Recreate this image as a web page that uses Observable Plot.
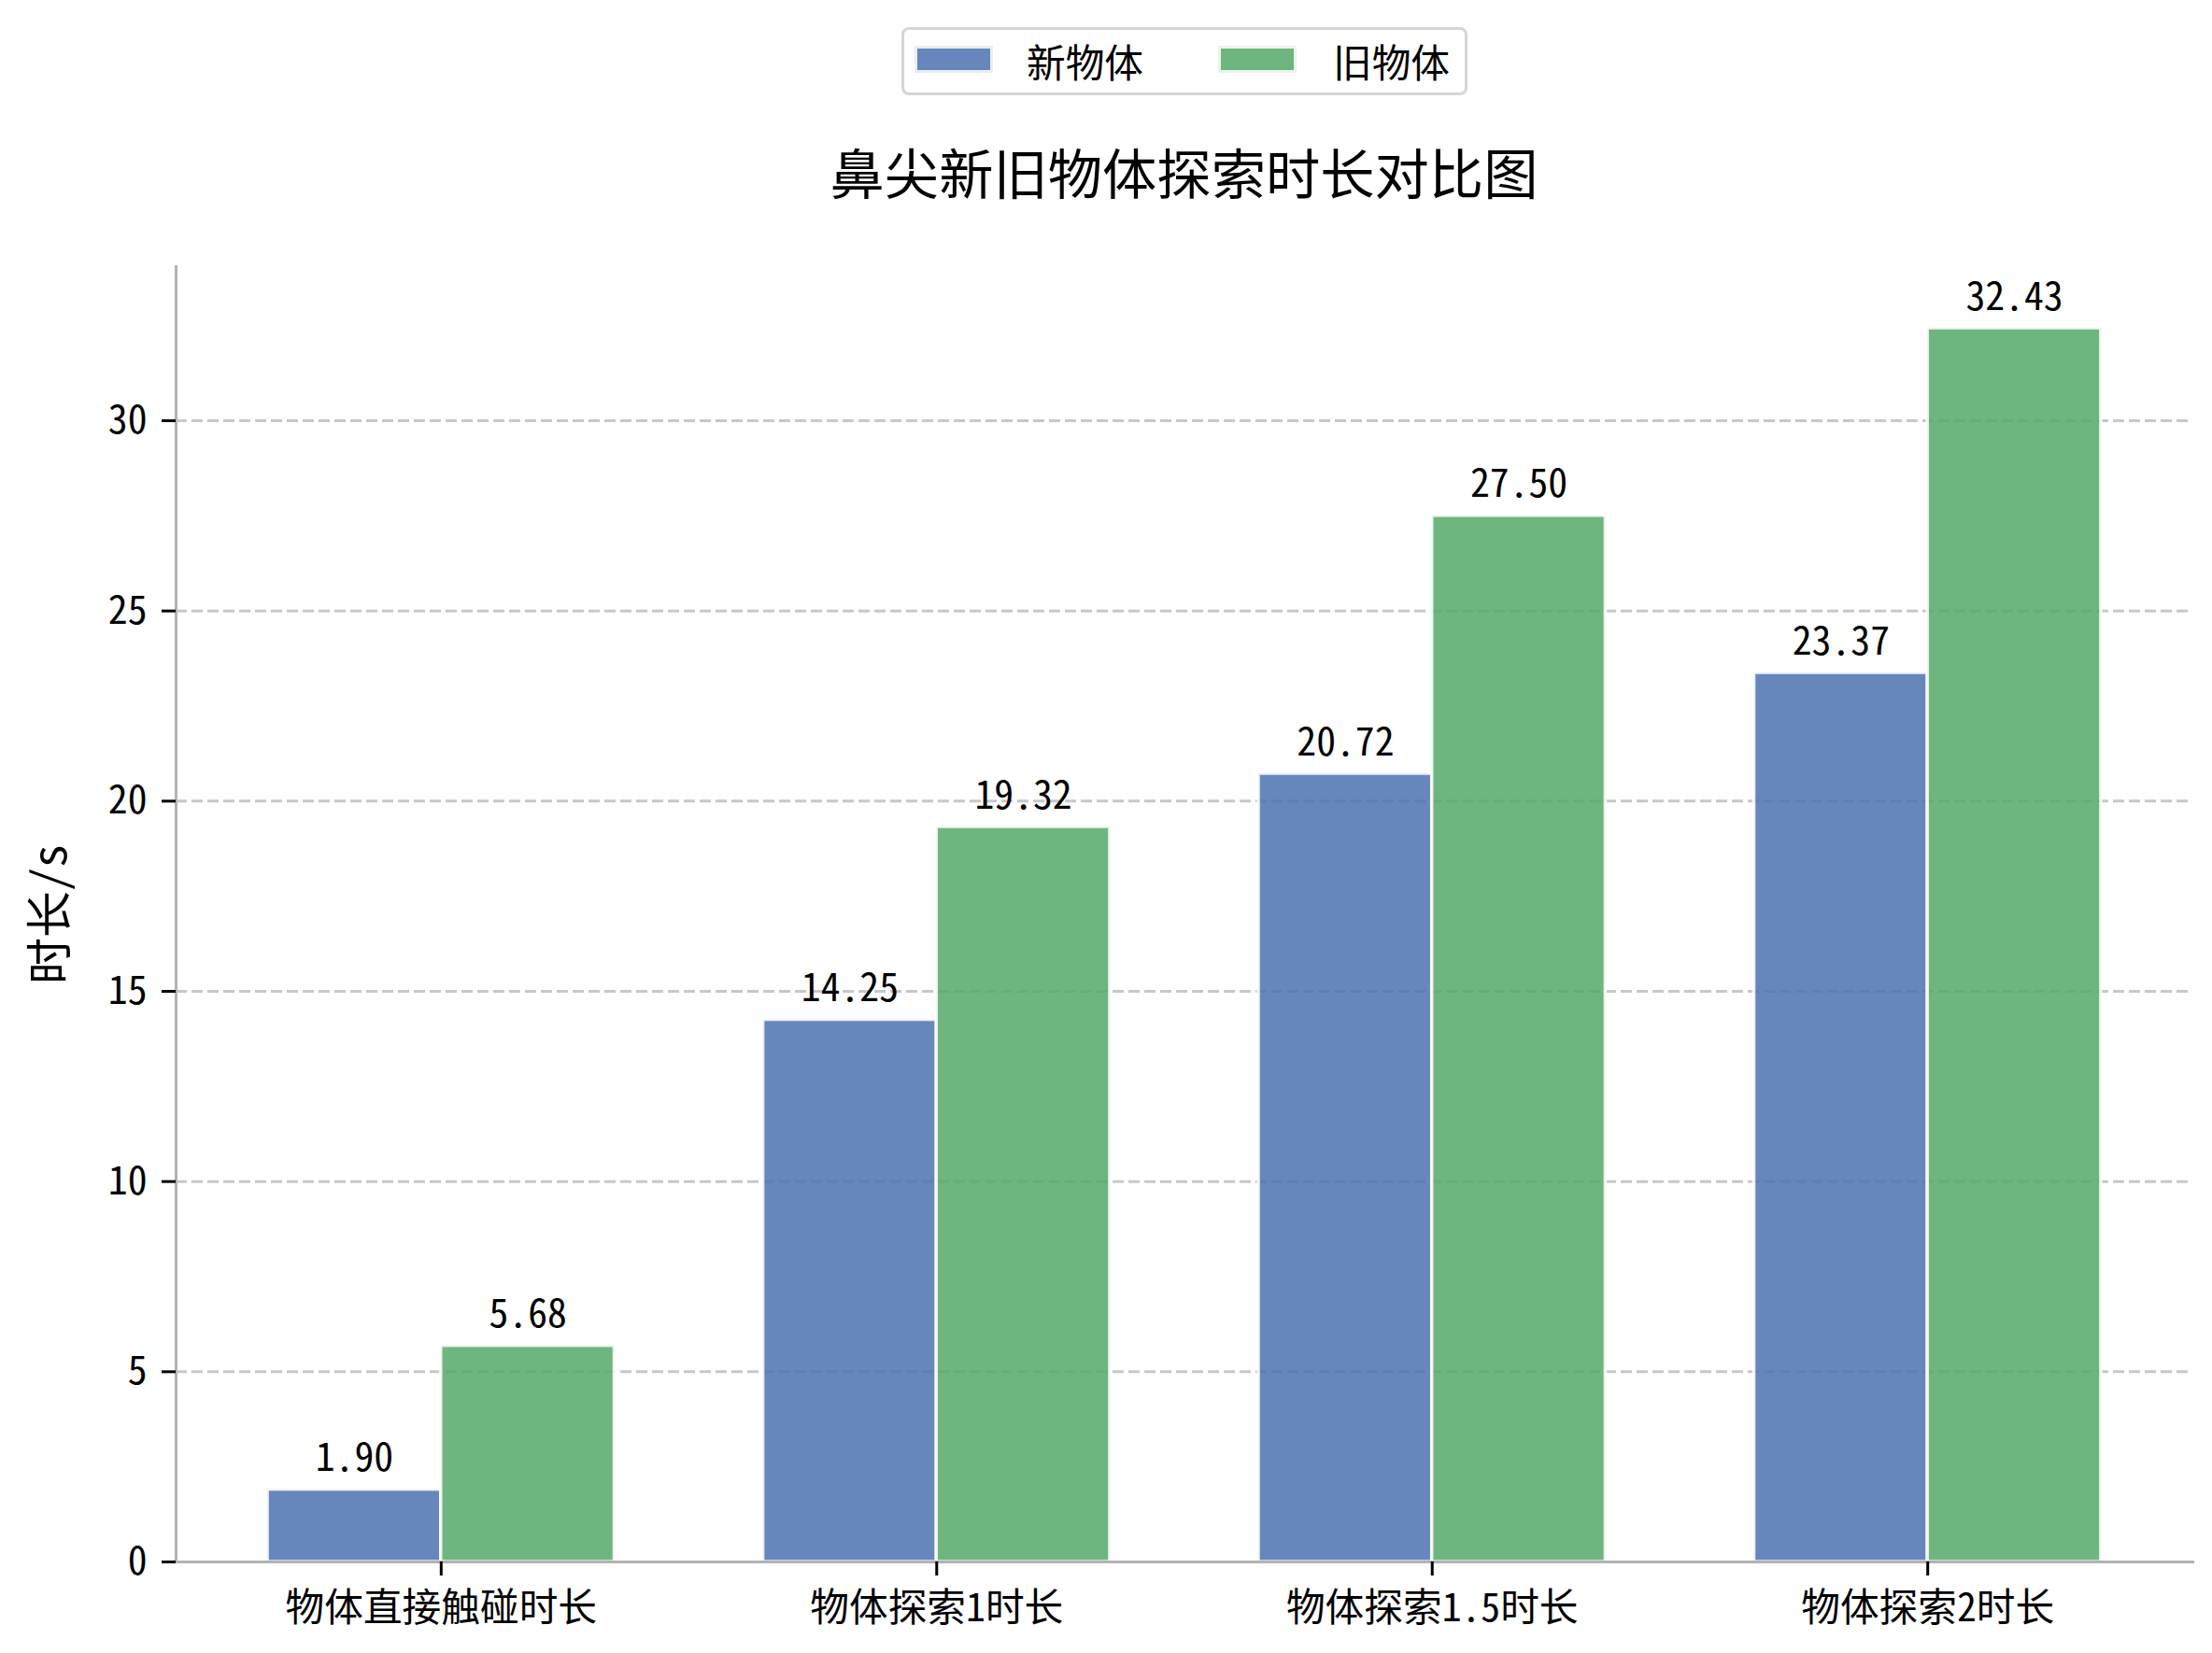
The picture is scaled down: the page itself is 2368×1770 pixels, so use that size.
<!DOCTYPE html>
<html>
<head>
<meta charset="utf-8">
<script src="https://cdn.jsdelivr.net/npm/d3@7"></script>
<script src="https://cdn.jsdelivr.net/npm/@observablehq/plot@0.6"></script>
<style>
  html, body { margin: 0; padding: 0; background: #fff; }
  #page { position: relative; width: 2368px; height: 1770px; background: #fff; overflow: hidden;
    font-family: "Noto Sans Mono CJK SC", "Noto Sans CJK SC", sans-serif; color: #000; }
  #header { position: relative; width: 2368px; height: 230px; }
  #legend { position: absolute; left: 965px; top: 29px; width: 600px; height: 67px;
    border: 3px solid #d6d6d6; border-radius: 8px; background: rgba(255,255,255,0.8); }
  .sw { position: absolute; top: 20px; width: 78px; height: 23px; }
  .lt { position: absolute; top: 0; height: 67px; line-height: 67px; font-size: 41.7px; white-space: nowrap; }
  #title { position: absolute; left: 188px; width: 2159px; top: 153px; height: 60px; line-height: 60px;
    text-align: center; font-size: 58.3px; }
  #chart svg { display: block; }
</style>
</head>
<body>
<div id="page">
  <div id="header">
    <div id="legend"></div>
    <div id="title"></div>
  </div>
  <div id="chart"></div>
</div>
<script>
// ---- data ----
const categories = ["物体直接触碰时长", "物体探索1时长", "物体探索1.5时长", "物体探索2时长"];
const seriesNames = ["新物体", "旧物体"];
const newValues = [1.90, 14.25, 20.72, 23.37];
const oldValues = [5.68, 19.32, 27.50, 32.43];
const seriesColors = ["#4C72B0", "#55A868"];
const yTicks = [0, 5, 10, 15, 20, 25, 30];
const titleText = "鼻尖新旧物体探索时长对比图";
const yLabel = "时长/s";

// ---- build table ----
const seriesValues = [newValues, oldValues];
const rows = [];
seriesValues.forEach((vals, s) => {
  vals.forEach((v, i) => rows.push({category: categories[i], idx: i, series: seriesNames[s], s, value: v}));
});

const barW = 0.35;
const maxV = d3.max(rows, d => d.value);
const xPad = barW + 0.05 * (categories.length - 1 + 2 * barW);
const fontFamily = '"Noto Sans Mono CJK SC", "Noto Sans CJK SC", sans-serif';

// ---- header: legend + title ----
document.getElementById("title").textContent = titleText;
const legend = document.getElementById("legend");
const swLeft = [14, 339];
const txtLeft = [131, 459];
seriesNames.forEach((name, s) => {
  const sw = document.createElement("div");
  sw.className = "sw";
  sw.style.left = swLeft[s] + "px";
  const c = d3.color(seriesColors[s]);
  sw.style.background = c.copy({opacity: 0.85}).formatRgb();
  sw.style.outline = "3px solid " + c.copy({opacity: 0.12}).formatRgb();
  legend.appendChild(sw);
  const t = document.createElement("div");
  t.className = "lt";
  t.style.left = txtLeft[s] + "px";
  t.textContent = name;
  legend.appendChild(t);
});

// ---- chart ----
const chart = Plot.plot({
  width: 2368,
  height: 1540,
  marginLeft: 188,
  marginRight: 21,
  marginTop: 55,
  marginBottom: 98,
  style: {fontFamily, fontSize: "41.7px", color: "#000", background: "#fff", overflow: "visible"},
  x: {type: "linear", domain: [-xPad, categories.length - 1 + xPad], axis: null},
  y: {domain: [0, maxV * 1.05], axis: null},
  color: {domain: seriesNames, range: seriesColors},
  marks: [
    Plot.gridY(yTicks.filter(t => t > 0), {stroke: "#b0b0b0", strokeOpacity: 0.7, strokeWidth: 3, strokeDasharray: "12,5"}),
    Plot.rectY(rows, {
      x1: d => d.idx + (d.s - 1) * barW,
      x2: d => d.idx + d.s * barW,
      y1: 0,
      y2: "value",
      fill: "series",
      fillOpacity: 0.85,
      stroke: "#fff",
      strokeOpacity: 0.85,
      strokeWidth: 3.5
    }),
    Plot.frame({anchor: "left", stroke: "#b3b3b3", strokeWidth: 3}),
    Plot.frame({anchor: "bottom", stroke: "#b3b3b3", strokeWidth: 3}),
    Plot.axisY({ticks: yTicks, tickSize: 15, tickPadding: 16, stroke: "#000", strokeWidth: 3, label: null, fontSize: 41.7}),
    Plot.axisX({ticks: categories.map((c, i) => i), tickFormat: i => categories[i], tickSize: 15, tickPadding: 19,
      stroke: "#000", strokeWidth: 3, label: null, fontSize: 41.7}),
    Plot.text(rows, {
      x: d => d.idx + (d.s - 0.5) * barW,
      y: "value",
      text: d => d3.format(".2f")(d.value),
      lineAnchor: "bottom",
      dy: -20,
      fontSize: 41.7,
      fill: "#000"
    }),
    Plot.text([yLabel], {frameAnchor: "left", dx: -134, rotate: -90, fontSize: 50, fill: "#000", textAnchor: "middle"})
  ]
});
document.getElementById("chart").appendChild(chart);
</script>
</body>
</html>
